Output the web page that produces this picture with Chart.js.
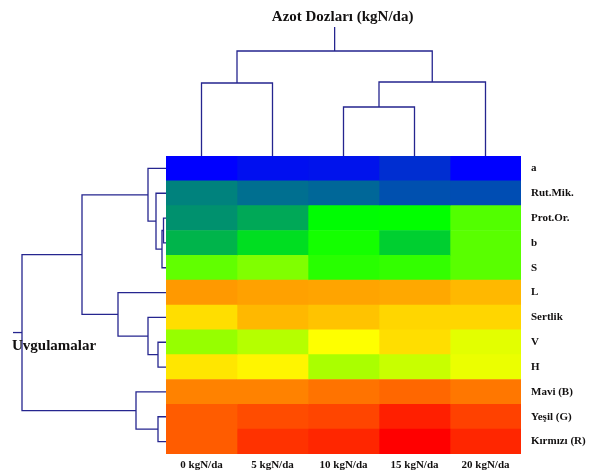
<!DOCTYPE html>
<html>
<head>
<meta charset="utf-8">
<script src="https://cdn.jsdelivr.net/npm/chart.js@4/dist/chart.umd.min.js"></script>
<style>
  html, body { margin: 0; padding: 0; background: #ffffff; }
  #wrap { width: 599px; height: 473px; position: relative; }
</style>
</head>
<body>
<div id="wrap"><canvas id="heat"></canvas></div>
<script>
// Row (treatment) and column (nitrogen dose) labels
const rowLabels = ['a', 'Rut.Mik.', 'Prot.Or.', 'b', 'S', 'L', 'Sertlik', 'V', 'H', 'Mavi (B)', 'Yeşil (G)', 'Kırmızı (R)'];
const doseLabels = ['0 kgN/da', '5 kgN/da', '10 kgN/da', '15 kgN/da', '20 kgN/da'];

// Normalized scores (0 = lowest, 1 = highest), one array per dose, in row order
const dose0  = [0.00, 0.17,  0.19, 0.235, 0.46,  0.80,  0.71,  0.53,  0.70,  0.83,  0.88,  0.88];
const dose5  = [0.02, 0.145, 0.22, 0.29,  0.50,  0.79,  0.76,  0.57,  0.68,  0.83,  0.90,  0.935];
const dose10 = [0.025,0.135, 0.33, 0.36,  0.385, 0.785, 0.745, 0.665, 0.555, 0.85,  0.91,  0.95];
const dose15 = [0.06, 0.105, 0.335,0.27,  0.40,  0.78,  0.72,  0.71,  0.595, 0.865, 0.96,  1.00];
const dose20 = [0.00, 0.10,  0.44, 0.45,  0.45,  0.76,  0.72,  0.63,  0.64,  0.845, 0.915, 0.95];
const doseScores = [dose0, dose5, dose10, dose15, dose20];

// Hierarchical clustering of rows: [childA, childB, distance]; new clusters get ids 12, 13, ...
const rowLinkage = [
  [2, 3, 0.25],
  [12, 4, 0.4],
  [1, 13, 1.0],
  [0, 14, 1.8],
  [7, 8, 0.8],
  [6, 16, 1.8],
  [5, 17, 4.8],
  [10, 11, 0.8],
  [15, 18, 8.4],
  [9, 19, 3.0],
  [20, 21, 14.4]
];
// Hierarchical clustering of doses: new clusters get ids 5, 6, ...
const doseLinkage = [
  [2, 3, 4.9],
  [0, 1, 7.3],
  [5, 4, 7.4],
  [6, 7, 10.5]
];

// Blue -> green -> yellow -> red colour ramp
function ramp(t) {
  t = Math.max(0, Math.min(1, t));
  let r, g, b;
  if (t < 1 / 3) { const s = t * 3; r = 0; g = 255 * s; b = 255 * (1 - s); }
  else if (t < 2 / 3) { const s = (t - 1 / 3) * 3; r = 255 * s; g = 255; b = 0; }
  else { const s = (t - 2 / 3) * 3; r = 255; g = 255 * (1 - s); b = 0; }
  return `rgb(${Math.round(r)},${Math.round(g)},${Math.round(b)})`;
}

const cellSpan = rowLabels.map(() => 1);
const datasets = doseScores.map((scores, j) => ({
  label: doseLabels[j],
  data: cellSpan,
  backgroundColor: scores.map(ramp),
  borderWidth: 0,
  categoryPercentage: 1,
  barPercentage: 1,
  xAxisID: 'x',
  yAxisID: 'y'
}));

const serif = "'Liberation Serif', 'DejaVu Serif', serif";
const inkColor = '#121010';
const treeColor = '#25258f';
const rowPxPerUnit = 10;
const dosePxPerUnit = 10;
const rowRootStub = 0.9;
const doseRootStub = 2.4;

const dendrogramPlugin = {
  id: 'dendrograms',
  afterDraw(chart) {
    const { ctx, chartArea, scales } = chart;
    ctx.save();
    ctx.strokeStyle = treeColor;
    ctx.lineWidth = 1.3;
    ctx.lineCap = 'butt';

    // row tree, growing leftwards from the heatmap
    const ry = rowLabels.map((_, i) => scales.y.getPixelForValue(i));
    const rh = rowLabels.map(() => 0);
    const left = chartArea.left;
    rowLinkage.forEach(([a, b, h]) => {
      const xm = left - h * rowPxPerUnit;
      ctx.beginPath();
      ctx.moveTo(left - rh[a] * rowPxPerUnit, ry[a]);
      ctx.lineTo(xm, ry[a]);
      ctx.lineTo(xm, ry[b]);
      ctx.lineTo(left - rh[b] * rowPxPerUnit, ry[b]);
      ctx.stroke();
      ry.push((ry[a] + ry[b]) / 2);
      rh.push(h);
    });
    const rootR = rowLinkage.length + rowLabels.length - 1;
    ctx.beginPath();
    ctx.moveTo(left - rh[rootR] * rowPxPerUnit, ry[rootR]);
    ctx.lineTo(left - (rh[rootR] + rowRootStub) * rowPxPerUnit, ry[rootR]);
    ctx.stroke();

    // dose tree, growing upwards from the heatmap
    const cx = doseLabels.map((_, i) => scales.x2.getPixelForValue(i));
    const ch = doseLabels.map(() => 0);
    const top = chartArea.top;
    doseLinkage.forEach(([a, b, h]) => {
      const ym = top - h * dosePxPerUnit;
      ctx.beginPath();
      ctx.moveTo(cx[a], top - ch[a] * dosePxPerUnit);
      ctx.lineTo(cx[a], ym);
      ctx.lineTo(cx[b], ym);
      ctx.lineTo(cx[b], top - ch[b] * dosePxPerUnit);
      ctx.stroke();
      cx.push((cx[a] + cx[b]) / 2);
      ch.push(h);
    });
    const rootC = doseLinkage.length + doseLabels.length - 1;
    ctx.beginPath();
    ctx.moveTo(cx[rootC], top - ch[rootC] * dosePxPerUnit);
    ctx.lineTo(cx[rootC], top - (ch[rootC] + doseRootStub) * dosePxPerUnit);
    ctx.stroke();

    // axis titles
    ctx.fillStyle = inkColor;
    ctx.textBaseline = 'middle';
    ctx.font = `bold 15px ${serif}`;
    ctx.textAlign = 'center';
    ctx.fillText('Azot Dozları (kgN/da)', cx[rootC] + 8, top - (ch[rootC] + doseRootStub) * dosePxPerUnit - 10);
    ctx.textAlign = 'left';
    ctx.fillText('Uvgulamalar', 12, ry[rootR] + 14);
    ctx.restore();
  }
};

new Chart(document.getElementById('heat'), {
  type: 'bar',
  data: { labels: rowLabels, datasets },
  options: {
    indexAxis: 'y',
    responsive: true,
    maintainAspectRatio: false,
    animation: false,
    layout: { padding: { left: 166, top: 156, right: 0, bottom: 0 } },
    plugins: { legend: { display: false }, tooltip: { enabled: false }, title: { display: false } },
    scales: {
      x: { type: 'linear', stacked: true, min: 0, max: 5, display: false },
      x2: {
        type: 'category',
        labels: doseLabels,
        position: 'bottom',
        offset: true,
        grid: { display: false, drawTicks: false },
        border: { display: false },
        ticks: { font: { family: serif, size: 11, weight: 'bold' }, color: inkColor, padding: 5, maxRotation: 0 },
        afterFit(scale) { scale.height = 19; }
      },
      y: {
        type: 'category',
        position: 'right',
        stacked: true,
        grid: { display: false, drawTicks: false },
        border: { display: false },
        ticks: { font: { family: serif, size: 11, weight: 'bold' }, color: inkColor, padding: 10 },
        afterFit(scale) { scale.width = 78; }
      }
    }
  },
  plugins: [dendrogramPlugin]
});
</script>
</body>
</html>
